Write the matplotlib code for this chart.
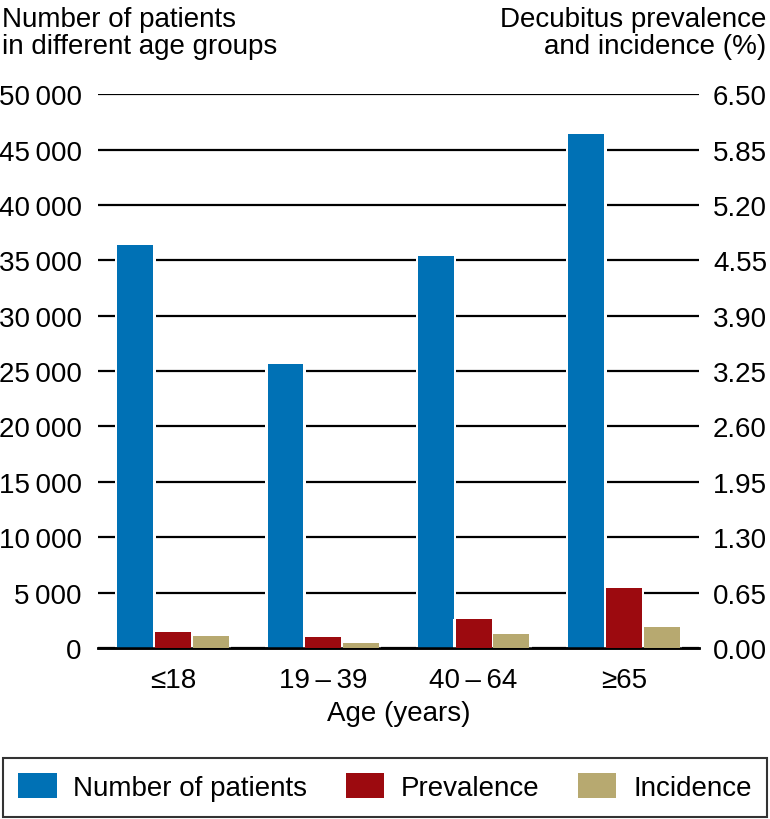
import numpy as np
import matplotlib
matplotlib.use("Agg")
import matplotlib.pyplot as plt
from matplotlib import font_manager

# -----------------------------------------------------------------------------
# DATA
# -----------------------------------------------------------------------------
age_groups = ["\u226418", "19\u2009\u2013\u200939", "40\u2009\u2013\u200964", "\u226565"]
n_patients = [36400, 25600, 35400, 46400]
prevalence = [0.19, 0.133, 0.345, 0.705]
incidence = [0.137, 0.054, 0.16, 0.247]

left_ticks = np.arange(0, 50001, 5000)
right_ticks = np.arange(0, 6.51, 0.65)

C_BLUE = "#0071b5"
C_RED = "#9c0a0f"
C_TAN = "#b7a970"

# -----------------------------------------------------------------------------
# FONT
# -----------------------------------------------------------------------------
names = {f.name for f in font_manager.fontManager.ttflist}
main_font = "Liberation Sans Narrow" if "Liberation Sans Narrow" in names else "Liberation Sans"
plt.rcParams["font.family"] = [main_font, "DejaVu Sans"]
FS = 20

# -----------------------------------------------------------------------------
# PLOT
# -----------------------------------------------------------------------------
fig = plt.figure(figsize=(7.7, 8.2), dpi=100)
ax = fig.add_axes([0.127, 0.2085, 0.781, 0.6755])
ax2 = ax.twinx()

x = np.arange(len(age_groups))
w = 0.238
off = 0.251
halo = 0.27   # white band behind bars so gridlines break around them

ax.set_axisbelow(True)
ax.yaxis.grid(True, color="black", lw=1.6)
ax.bar(x - off, n_patients, width=halo, color="white", zorder=2)
ax.bar(x - off, n_patients, width=w, color=C_BLUE, zorder=3, label="Number of patients")

ax2.bar(x, prevalence, width=halo, color="white", zorder=2)
ax2.bar(x + off, incidence, width=halo, color="white", zorder=2)
ax2.bar(x, prevalence, width=w, color=C_RED, zorder=3, label="Prevalence")
ax2.bar(x + off, incidence, width=w, color=C_TAN, zorder=3, label="Incidence")

ax.set_xlim(-0.5, 3.5)
ax.set_ylim(0, 50000)
ax2.set_ylim(0, 6.5)
ax.set_yticks(left_ticks)
ax.set_yticklabels([f"{v:,}".replace(",", "\u2009") for v in left_ticks])
ax2.set_yticks(right_ticks)
ax2.set_yticklabels([f"{v:.2f}" for v in right_ticks])
ax.set_xticks(x)
ax.set_xticklabels(age_groups)

for a in (ax, ax2):
    for s in ("top", "left", "right"):
        a.spines[s].set_visible(False)
    a.spines["bottom"].set_linewidth(1.8)
    a.spines["bottom"].set_color("black")
    a.tick_params(length=0, labelsize=FS)
ax.tick_params(axis="y", pad=11.5)
ax2.tick_params(axis="y", pad=10)
ax.tick_params(axis="x", pad=14)

ax.set_xlabel("Age (years)", fontsize=FS, labelpad=5)

fig.text(0.003, 0.992, "Number of patients\nin different age groups",
         fontsize=FS, ha="left", va="top", linespacing=1.05)
fig.text(0.995, 0.992, "Decubitus prevalence\nand incidence (%)",
         fontsize=FS, ha="right", va="top", linespacing=1.05, multialignment="right")

h1, l1 = ax.get_legend_handles_labels()
h2, l2 = ax2.get_legend_handles_labels()
leg = fig.legend(h1 + h2, l1 + l2, loc="lower center", ncol=3,
                 bbox_to_anchor=(0.5, 0.003),
                 fontsize=FS, frameon=True, fancybox=False, edgecolor="black",
                 handlelength=1.37, handleheight=1.0, handletextpad=0.6,
                 columnspacing=1.4, borderaxespad=0, borderpad=0.55)
leg.get_frame().set_linewidth(1.5)

fig.savefig("out.png", dpi=100)
